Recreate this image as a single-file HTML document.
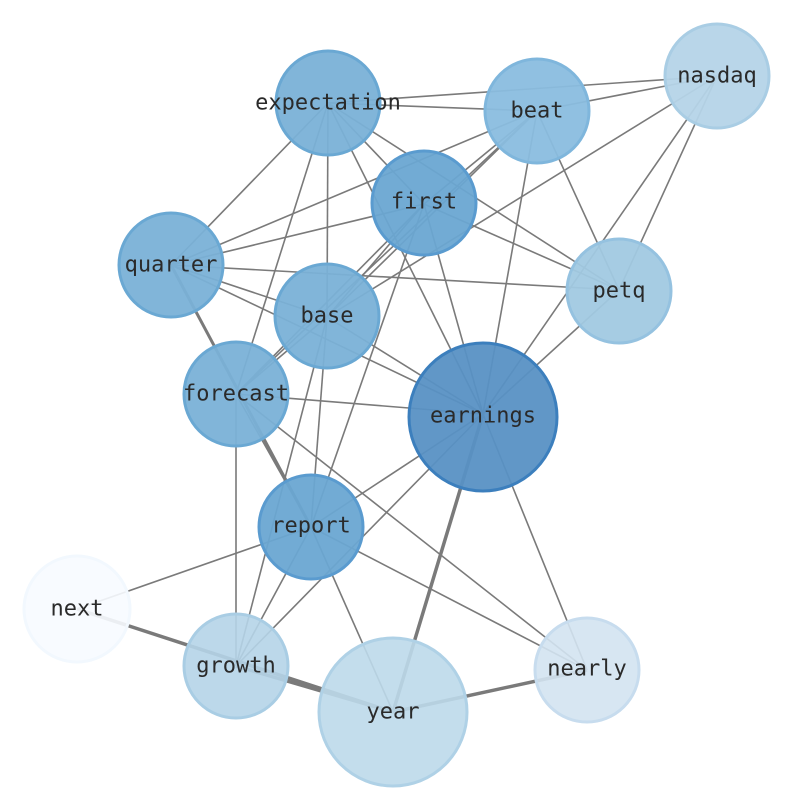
<!DOCTYPE html>
<html><head><meta charset="utf-8"><style>html,body{margin:0;padding:0;background:#fff}svg{display:block}</style></head>
<body>
<svg width="794" height="790" viewBox="0 0 794 790" xmlns="http://www.w3.org/2000/svg">
<g stroke="#7a7a7a" stroke-width="1.6" fill="none">
<line x1="328" y1="103" x2="717" y2="76"/>
<line x1="328" y1="103" x2="537" y2="111"/>
<line x1="328" y1="103" x2="171" y2="265"/>
<line x1="328" y1="103" x2="236" y2="394"/>
<line x1="328" y1="103" x2="327" y2="317"/>
<line x1="328" y1="103" x2="483" y2="414"/>
<line x1="328" y1="103" x2="424" y2="204"/>
<line x1="328" y1="103" x2="619" y2="290"/>
<line x1="537" y1="111" x2="717" y2="76"/>
<line x1="537" y1="111" x2="171" y2="265"/>
<line x1="537" y1="111" x2="424" y2="204"/>
<line x1="537" y1="111" x2="327" y2="317"/>
<line x1="537" y1="111" x2="236" y2="394"/>
<line x1="537" y1="111" x2="619" y2="290"/>
<line x1="537" y1="111" x2="483" y2="414"/>
<line x1="717" y1="76" x2="327" y2="317"/>
<line x1="717" y1="76" x2="483" y2="414"/>
<line x1="717" y1="76" x2="619" y2="290"/>
<line x1="424" y1="204" x2="171" y2="265"/>
<line x1="424" y1="204" x2="327" y2="317"/>
<line x1="424" y1="204" x2="236" y2="394"/>
<line x1="424" y1="204" x2="619" y2="290"/>
<line x1="424" y1="204" x2="483" y2="414"/>
<line x1="424" y1="204" x2="311" y2="527"/>
<line x1="171" y1="265" x2="619" y2="290"/>
<line x1="171" y1="265" x2="327" y2="317"/>
<line x1="171" y1="265" x2="483" y2="414"/>
<line x1="171" y1="265" x2="311" y2="527" stroke-width="3"/>
<line x1="327" y1="317" x2="483" y2="414"/>
<line x1="327" y1="317" x2="236" y2="394"/>
<line x1="327" y1="317" x2="311" y2="527"/>
<line x1="327" y1="317" x2="236" y2="666"/>
<line x1="236" y1="394" x2="483" y2="414"/>
<line x1="236" y1="394" x2="236" y2="666"/>
<line x1="236" y1="394" x2="311" y2="527"/>
<line x1="236" y1="394" x2="587" y2="670"/>
<line x1="483" y1="414" x2="619" y2="290"/>
<line x1="483" y1="414" x2="311" y2="527"/>
<line x1="483" y1="414" x2="236" y2="666"/>
<line x1="483" y1="414" x2="393" y2="712" stroke-width="3.5"/>
<line x1="483" y1="414" x2="587" y2="670"/>
<line x1="311" y1="527" x2="77" y2="609"/>
<line x1="311" y1="527" x2="236" y2="666"/>
<line x1="311" y1="527" x2="393" y2="712"/>
<line x1="311" y1="527" x2="587" y2="670"/>
<line x1="77" y1="609" x2="393" y2="712" stroke-width="3.5"/>
<line x1="236" y1="666" x2="393" y2="712" stroke-width="3.5"/>
<line x1="393" y1="712" x2="587" y2="670" stroke-width="3.5"/>
</g>
<g stroke-width="3">
<circle cx="328" cy="103" r="52" fill="#7ab1d7" fill-opacity="0.95" stroke="#6aa8d3"/>
<circle cx="537" cy="111" r="52" fill="#8abddf" fill-opacity="0.95" stroke="#7fb6dc"/>
<circle cx="717" cy="76" r="52" fill="#b5d4e8" fill-opacity="0.95" stroke="#a9cde4"/>
<circle cx="424" cy="203" r="52" fill="#6aa6d2" fill-opacity="0.95" stroke="#5a9bcf"/>
<circle cx="171" cy="265" r="52" fill="#7ab1d7" fill-opacity="0.95" stroke="#6aa8d3"/>
<circle cx="619" cy="291" r="52" fill="#a1c9e2" fill-opacity="0.95" stroke="#95c2e0"/>
<circle cx="327" cy="316" r="52" fill="#7ab1d7" fill-opacity="0.95" stroke="#6aa8d3"/>
<circle cx="236" cy="394" r="52" fill="#7ab1d7" fill-opacity="0.95" stroke="#6aa8d3"/>
<circle cx="483" cy="417" r="74" fill="#5891c4" fill-opacity="0.95" stroke="#3c7fbd"/>
<circle cx="311" cy="527" r="52" fill="#6aa6d2" fill-opacity="0.95" stroke="#5a9bcf"/>
<circle cx="77" cy="609" r="53" fill="#f7fbff" fill-opacity="0.9" stroke="#f2f8fe"/>
<circle cx="236" cy="666" r="52" fill="#b5d4e8" fill-opacity="0.9" stroke="#a9cde4"/>
<circle cx="393" cy="712" r="74" fill="#bcd9ea" fill-opacity="0.9" stroke="#afd1e6"/>
<circle cx="587" cy="670" r="52" fill="#d3e3f1" fill-opacity="0.9" stroke="#c7dcee"/>
</g>
<g font-family="'DejaVu Sans Mono','Liberation Mono',monospace" font-size="22" fill="#2a2a2a" text-anchor="middle" dominant-baseline="central">
<text x="328" y="103">expectation</text>
<text x="537" y="111">beat</text>
<text x="717" y="76">nasdaq</text>
<text x="424" y="202">first</text>
<text x="171" y="265">quarter</text>
<text x="619" y="291">petq</text>
<text x="327" y="316">base</text>
<text x="236" y="394">forecast</text>
<text x="483" y="416">earnings</text>
<text x="311" y="526">report</text>
<text x="77" y="609">next</text>
<text x="236" y="666">growth</text>
<text x="393" y="712">year</text>
<text x="587" y="669">nearly</text>
</g>
</svg>
</body></html>
